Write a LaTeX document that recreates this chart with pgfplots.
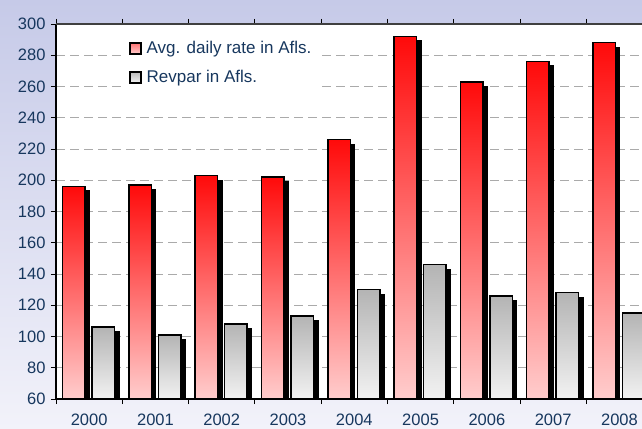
\documentclass[border=0pt]{standalone}
\usepackage{fontspec}
\setmainfont{Liberation Sans}
\usepackage{pgfplots}
\pgfplotsset{compat=1.18}
\usepackage{pgfplotstable}

\definecolor{bgtop}{RGB}{198,202,232}
\definecolor{bgbot}{RGB}{242,242,250}
\definecolor{txtblue}{RGB}{23,55,94}
\definecolor{redtop}{RGB}{255,10,10}
\definecolor{redbot}{RGB}{255,205,205}
\definecolor{graytop}{RGB}{180,180,180}
\definecolor{graybot}{RGB}{242,242,242}
\definecolor{gridgray}{RGB}{170,170,170}

% x = category position, adr / revpar in Afls.
\pgfplotstableread{
x year adr revpar
0 2000 196 106
1 2001 197 101
2 2002 203 108
3 2003 202 113
4 2004 226 130
5 2005 292 146
6 2006 263 126
7 2007 276 128
8 2008 288 115
}\hoteldata

\begin{document}
\begin{tikzpicture}
\useasboundingbox (0,0) rectangle (642bp,429bp);
\shade[top color=bgtop, bottom color=bgbot] (0,0) rectangle (642bp,429bp);
% the value axis starts at 60: bars are drawn from that base (y shifted by 60)
\begin{axis}[
    name=ax,
    at={(56bp,30bp)}, anchor=south west,
    scale only axis,
    width=586bp, height=375bp,
    xmin=-0.5, xmax=8.34,
    ymin=0, ymax=240,
    enlargelimits=false,
    axis background/.style={fill=white},
    axis line style={draw=none},
    ytick={0,20,...,240},
    yticklabels={60,80,100,120,140,160,180,200,220,240,260,280,300},
    xtick={-0.5,0.5,...,8.5},
    xticklabels={},
    extra x ticks={0,1,...,8},
    extra x tick labels={2000,2001,2002,2003,2004,2005,2006,2007,2008},
    extra x tick style={major tick length=0pt, grid=none,
        xticklabel style={yshift=-11bp}},
    tick align=outside,
    major tick length=5bp,
    tick style={black, line width=0.8bp},
    tick label style={font=\fontsize{16.5bp}{19bp}\selectfont, text=txtblue},
    yticklabel style={xshift=-2bp},
    ymajorgrids=true,
    grid style={gridgray, line width=0.8bp, dash pattern=on 9bp off 5bp},
    legend style={at={(0.112,0.97)}, anchor=north west, draw=none, fill=white,
        inner xsep=7bp, inner ysep=4bp,
        font=\fontsize{17bp}{19bp}\selectfont, text=txtblue,
        row sep=11bp,
        /tikz/every odd column/.append style={column sep=3bp}},
    legend cell align=left,
    every axis plot/.append style={ybar, bar width=0.34, forget plot},
]
% one plot per bar, so that every bar has its own vertical shading
\pgfplotsinvokeforeach{0,...,8}{
  \addplot[bar shift=-0.155, fill=black, draw=none, yshift=-4bp,
      restrict x to domain=#1:#1] table[x=x, y expr=\thisrow{adr}-60] {\hoteldata};
  \addplot[bar shift=0.29, fill=black, draw=none, yshift=-4bp,
      restrict x to domain=#1:#1] table[x=x, y expr=\thisrow{revpar}-60] {\hoteldata};
  \addplot[bar shift=-0.23, draw=black, line width=1.5bp,
      top color=redtop, bottom color=redbot,
      restrict x to domain=#1:#1] table[x=x, y expr=\thisrow{adr}-60] {\hoteldata};
  \addplot[bar shift=0.215, draw=black, line width=1.5bp,
      top color=graytop, bottom color=graybot,
      restrict x to domain=#1:#1] table[x=x, y expr=\thisrow{revpar}-60] {\hoteldata};
}
\addlegendimage{legend image code/.code={\draw[black, line width=1.8bp,
    top color=red!55, bottom color=redbot] (0bp,-5.5bp) rectangle (11bp,5.5bp);}}
\addlegendentry{Avg. daily rate in Afls.}
\addlegendimage{legend image code/.code={\draw[black, line width=1.8bp,
    top color=gray!55, bottom color=graybot] (0bp,-5.5bp) rectangle (11bp,5.5bp);}}
\addlegendentry{Revpar in Afls.}
\end{axis}
\draw[black, line width=1.2bp] (ax.north west) -- (ax.south west) -- (ax.south east);
\draw[black!75, line width=1.2bp] (ax.north west) -- (ax.north east);
\end{tikzpicture}
\end{document}
